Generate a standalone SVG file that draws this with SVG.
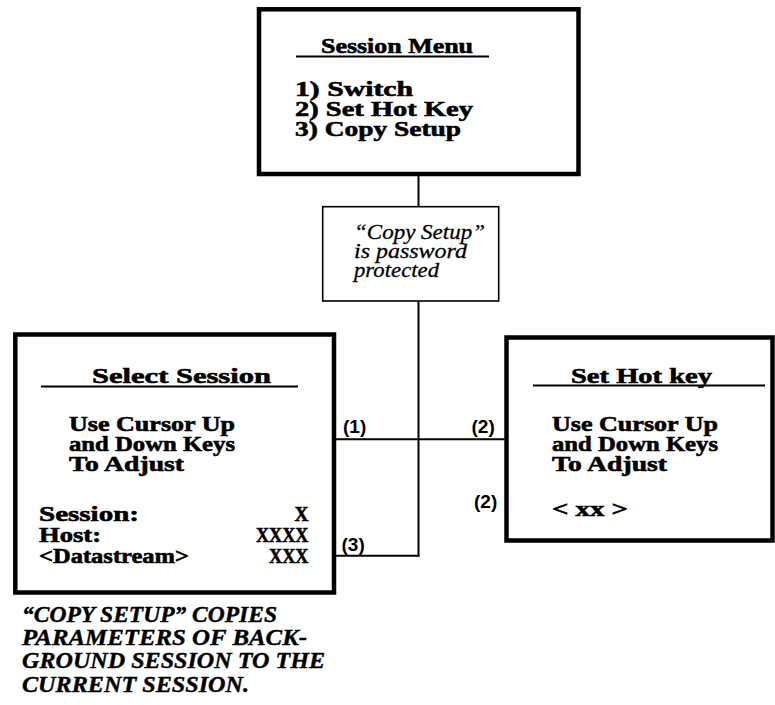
<svg xmlns="http://www.w3.org/2000/svg" width="775" height="705" viewBox="0 0 775 705">
<style>
.box{fill:#fff;stroke:#000;stroke-width:4.5}
.note{fill:#fff;stroke:#000;stroke-width:1.6}
.ul{stroke:#000;stroke-width:2}
.con{stroke:#000;stroke-width:2;fill:none}
.mono{font-family:"Liberation Serif","Times New Roman",serif;font-weight:bold;font-size:22px;fill:#000;stroke:#000;stroke-width:0.6}
.ital{font-family:"Liberation Serif","Times New Roman",serif;font-style:italic;font-size:22px;fill:#000;stroke:#000;stroke-width:0.3}
.cap{font-family:"Liberation Serif","Times New Roman",serif;font-style:italic;font-weight:bold;font-size:23px;fill:#000;stroke:#000;stroke-width:0.4}
.lbl{font-family:"Liberation Sans",Arial,sans-serif;font-weight:bold;font-size:19px;fill:#000}
</style>
<g id="connectors">
<line class="con" x1="418.5" y1="176" x2="418.5" y2="556.7"/>
<line class="con" x1="336" y1="439.3" x2="504.5" y2="439.3"/>
<line class="con" x1="332" y1="555.7" x2="419.5" y2="555.7"/>
</g>
<g id="session-menu">
<rect class="box" x="259" y="9.3" width="319.5" height="164.7"/>
<text class="mono" x="321" y="53" textLength="152" lengthAdjust="spacingAndGlyphs">Session Menu</text>
<line class="ul" x1="296" y1="56.5" x2="489" y2="56.5"/>
<text class="mono" x="295" y="96" textLength="118" lengthAdjust="spacingAndGlyphs">1) Switch</text>
<text class="mono" x="295" y="116" textLength="178" lengthAdjust="spacingAndGlyphs">2) Set Hot Key</text>
<text class="mono" x="295" y="136" textLength="166" lengthAdjust="spacingAndGlyphs">3) Copy Setup</text>
</g>
<g id="password-note">
<rect class="note" x="322.7" y="206.7" width="176" height="94.3"/>
<text class="ital" x="354" y="239" textLength="131" lengthAdjust="spacingAndGlyphs">“Copy Setup”</text>
<text class="ital" x="354" y="258" textLength="113" lengthAdjust="spacingAndGlyphs">is password</text>
<text class="ital" x="354" y="277" textLength="85" lengthAdjust="spacingAndGlyphs">protected</text>
</g>
<g id="select-session">
<rect class="box" x="15.3" y="334.5" width="318.7" height="258"/>
<text class="mono" x="92" y="383" textLength="179" lengthAdjust="spacingAndGlyphs">Select Session</text>
<line class="ul" x1="41" y1="386.5" x2="298" y2="386.5"/>
<text class="mono" x="69" y="431" textLength="166" lengthAdjust="spacingAndGlyphs">Use Cursor Up</text>
<text class="mono" x="69" y="451" textLength="166" lengthAdjust="spacingAndGlyphs">and Down Keys</text>
<text class="mono" x="69" y="471" textLength="115" lengthAdjust="spacingAndGlyphs">To Adjust</text>
<text class="mono" x="39" y="521" textLength="100" lengthAdjust="spacingAndGlyphs">Session:</text>
<text class="mono" x="294.5" y="521" textLength="14" lengthAdjust="spacingAndGlyphs">X</text>
<text class="mono" x="39" y="542" textLength="62" lengthAdjust="spacingAndGlyphs">Host:</text>
<text class="mono" x="256" y="542" textLength="52.5" lengthAdjust="spacingAndGlyphs">XXXX</text>
<text class="mono" x="39" y="563" textLength="150" lengthAdjust="spacingAndGlyphs">&lt;Datastream&gt;</text>
<text class="mono" x="269" y="563" textLength="39.5" lengthAdjust="spacingAndGlyphs">XXX</text>
</g>
<g id="set-hot-key">
<rect class="box" x="506.5" y="337.5" width="266" height="203"/>
<text class="mono" x="571" y="383" textLength="141" lengthAdjust="spacingAndGlyphs">Set Hot key</text>
<line class="ul" x1="533" y1="385.5" x2="765" y2="385.5"/>
<text class="mono" x="552" y="431" textLength="166" lengthAdjust="spacingAndGlyphs">Use Cursor Up</text>
<text class="mono" x="552" y="451" textLength="166" lengthAdjust="spacingAndGlyphs">and Down Keys</text>
<text class="mono" x="552" y="471" textLength="115" lengthAdjust="spacingAndGlyphs">To Adjust</text>
<text class="mono" x="552" y="516" textLength="76" lengthAdjust="spacingAndGlyphs">&lt; xx &gt;</text>
</g>
<g id="labels">
<text class="lbl" x="343" y="433">(1)</text>
<text class="lbl" x="471.5" y="433">(2)</text>
<text class="lbl" x="474" y="508">(2)</text>
<text class="lbl" x="341.5" y="551">(3)</text>
</g>
<g id="caption">
<text class="cap" x="22" y="621.5" textLength="255" lengthAdjust="spacingAndGlyphs">“COPY SETUP” COPIES</text>
<text class="cap" x="22" y="645" textLength="285" lengthAdjust="spacingAndGlyphs">PARAMETERS OF BACK-</text>
<text class="cap" x="22" y="668.3" textLength="303" lengthAdjust="spacingAndGlyphs">GROUND SESSION TO THE</text>
<text class="cap" x="22" y="691.7" textLength="227" lengthAdjust="spacingAndGlyphs">CURRENT SESSION.</text>
</g>
</svg>
